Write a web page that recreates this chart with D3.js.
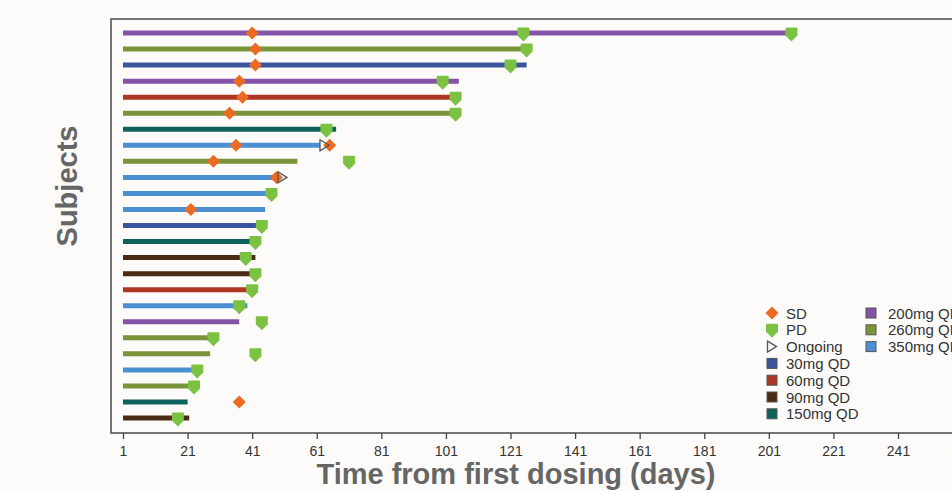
<!DOCTYPE html>
<html>
<head>
<meta charset="utf-8">
<script src="https://cdn.jsdelivr.net/npm/d3@7"></script>
<style>
  body { margin: 0; background: #fcfbfa; }
  svg { display: block; font-family: "Liberation Sans", Arial, sans-serif; }
</style>
</head>
<body>
<div id="chart"></div>
<script>
// subjects from top to bottom, with their dose group and time on treatment (days)
var subjects = d3.range(1, 26);
var doseGroups = ["200mg QD", "260mg QD", "30mg QD", "200mg QD", "60mg QD", "260mg QD", "150mg QD",
  "350mg QD", "260mg QD", "350mg QD", "350mg QD", "350mg QD", "30mg QD", "150mg QD", "90mg QD",
  "90mg QD", "60mg QD", "350mg QD", "200mg QD", "260mg QD", "260mg QD", "350mg QD", "260mg QD",
  "150mg QD", "90mg QD"];
var durations = [208, 125, 126, 105, 104, 104, 67, 62, 55, 48, 46, 45, 44.5, 43, 42, 41, 39.5, 39.5,
  37, 28, 28, 23, 22, 21, 21.5];

// SD assessments (subject, day)
var sdSubjects = [1, 2, 3, 4, 5, 6, 8, 8, 9, 10, 12, 24];
var sdDays = [41, 42, 42, 37, 38, 34, 36, 65, 29, 48.5, 22, 37];

// PD assessments (subject, day)
var pdSubjects = [1, 1, 2, 3, 4, 5, 6, 7, 9, 11, 13, 14, 15, 16, 17, 18, 19, 20, 21, 22, 23, 25];
var pdDays = [125, 208, 126, 121, 100, 104, 104, 64, 71, 47, 44, 42, 39, 42, 41, 37, 44, 29, 42, 24, 23, 18];

// still on treatment
var ongoingSubjects = [8, 10];
var ongoingDays = [62, 49];

var doseNames = ["30mg QD", "60mg QD", "90mg QD", "150mg QD", "200mg QD", "260mg QD", "350mg QD"];
var doseColors = ["#3b549e", "#ad3624", "#4a2a12", "#0e625c", "#8452a6", "#7a9539", "#4a8fd2"];
var xTicks = [1, 21, 41, 61, 81, 101, 121, 141, 161, 181, 201, 221, 241, 261];

var width = 952, height = 491;
var svg = d3.select("#chart").append("svg")
    .attr("width", width)
    .attr("height", height);

var x = d3.scaleLinear().domain([1, 241]).range([123, 898]);
var y = d3.scalePoint().domain(subjects).range([33, 418]);
var color = d3.scaleOrdinal().domain(doseNames).range(doseColors);

//shapes for the markers
function diamond(s) {
  return "M0," + (-s) + "L" + s + ",0L0," + s + "L" + (-s) + ",0Z";
}
var shield = "M-6,-5.5Q-6,-6.5 -5,-6.5L5,-6.5Q6,-6.5 6,-5.5L6,1.5L0,7.5L-6,1.5Z";
var triangle = "M0,-5.5L9,0L0,5.5Z";

// x axis
var xAxis = d3.axisBottom(x)
    .tickValues(xTicks)
    .tickFormat(d3.format("d"))
    .tickSize(6)
    .tickPadding(7);
var gx = svg.append("g")
    .attr("transform", "translate(0,433)")
    .call(xAxis);
gx.select(".domain").remove();
gx.selectAll("line").attr("stroke", "#444").attr("stroke-width", 1.3);
gx.selectAll("text")
    .attr("fill", "#333")
    .style("font-size", "14px");

// bars
svg.selectAll(".bar")
    .data(subjects)
    .enter()
    .append("line")
    .attr("class", "bar")
    .attr("x1", x(1))
    .attr("x2", function(d, i){ return x(durations[i]); })
    .attr("y1", function(d){ return y(d); })
    .attr("y2", function(d){ return y(d); })
    .attr("stroke", function(d, i){ return color(doseGroups[i]); })
    .attr("stroke-width", 5);

// SD
svg.selectAll(".sd")
    .data(sdSubjects)
    .enter()
    .append("path")
    .attr("class", "sd")
    .attr("d", diamond(6.5))
    .attr("transform", function(d, i){ return "translate(" + x(sdDays[i]) + "," + y(d) + ")"; })
    .attr("fill", "#ec6b23");

// PD
svg.selectAll(".pd")
    .data(pdSubjects)
    .enter()
    .append("path")
    .attr("class", "pd")
    .attr("d", shield)
    .attr("transform", function(d, i){ return "translate(" + x(pdDays[i]) + "," + (y(d) + 1) + ")"; })
    .attr("fill", "#7cc242");

// ongoing
svg.selectAll(".ongoing")
    .data(ongoingSubjects)
    .enter()
    .append("path")
    .attr("class", "ongoing")
    .attr("d", triangle)
    .attr("transform", function(d, i){ return "translate(" + x(ongoingDays[i]) + "," + y(d) + ")"; })
    .attr("fill", "none")
    .attr("stroke", "#555")
    .attr("stroke-width", 1.3);

// frame
svg.append("rect")
    .attr("x", 111)
    .attr("y", 19)
    .attr("width", 900)
    .attr("height", 414)
    .attr("fill", "none")
    .attr("stroke", "#4a4a4a")
    .attr("stroke-width", 1.5);

// legend
var legend = svg.append("g").style("font-size", "15px").attr("fill", "#333");
var rowH = 16.8;
var col1 = [{type: "sd", label: "SD"}, {type: "pd", label: "PD"}, {type: "ongoing", label: "Ongoing"}]
  .concat(doseNames.slice(0, 4).map(function(n){ return {type: "dose", label: n}; }));
var col2 = doseNames.slice(4).map(function(n){ return {type: "dose", label: n}; });

function legendColumn(items, mx, tx) {
  items.forEach(function(it, i){
    var cy = 313 + i * rowH;
    if (it.type == "sd") {
      legend.append("path").attr("d", diamond(6.5))
        .attr("transform", "translate(" + mx + "," + cy + ")").attr("fill", "#ec6b23");
    } else if (it.type == "pd") {
      legend.append("path").attr("d", shield)
        .attr("transform", "translate(" + mx + "," + (cy + 0.5) + ")").attr("fill", "#7cc242");
    } else if (it.type == "ongoing") {
      legend.append("path").attr("d", triangle)
        .attr("transform", "translate(" + (mx - 4.5) + "," + cy + ")")
        .attr("fill", "none").attr("stroke", "#555").attr("stroke-width", 1.3);
    } else {
      legend.append("rect")
        .attr("x", mx - 5).attr("y", cy - 5).attr("width", 10).attr("height", 10)
        .attr("fill", color(it.label)).attr("stroke", "#555").attr("stroke-width", 1);
    }
    legend.append("text")
      .attr("x", tx).attr("y", cy + 5.5)
      .text(it.label);
  });
}
legendColumn(col1, 772, 786);
legendColumn(col2, 871, 888);

// axis titles
svg.append("text")
    .attr("transform", "translate(77,186) rotate(-90)")
    .attr("text-anchor", "middle")
    .attr("fill", "#666")
    .style("font-size", "29px")
    .style("font-weight", "bold")
    .text("Subjects");

svg.append("text")
    .attr("x", 516)
    .attr("y", 484)
    .attr("text-anchor", "middle")
    .attr("fill", "#666")
    .style("font-size", "29px")
    .style("font-weight", "bold")
    .text("Time from first dosing (days)");
</script>
</body>
</html>
